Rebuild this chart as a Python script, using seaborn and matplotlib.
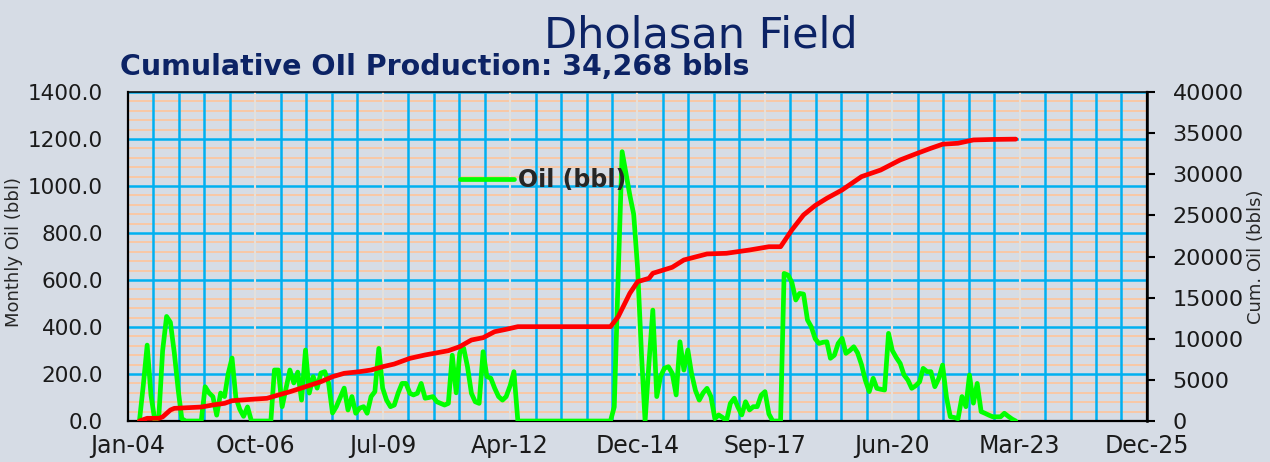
import matplotlib
matplotlib.use('Agg')
import matplotlib.pyplot as plt
import matplotlib.dates as mdates
from matplotlib.ticker import MultipleLocator, AutoMinorLocator, FormatStrFormatter, FixedLocator
import pandas as pd
import seaborn as sns

# monthly oil production (bbl), Apr-2004 .. Mar-2023
oil_start = '2004-04-01'
oil_monthly = [
    0, 150, 323, 110, 0, 20, 300, 445, 420,                     # 2004 (Apr-Dec)
    290, 130, 10, 0, 0, 0, 0, 0, 146, 120, 104, 25,             # 2005
    119, 104, 200, 268, 100, 50, 20, 60, 0, 0, 0, 0,            # 2006
    0, 0, 217, 217, 61, 140, 217, 162, 208, 89, 302, 119,       # 2007
    189, 140, 204, 210, 162, 34, 61, 100, 140, 47, 104, 33,     # 2008
    55, 61, 33, 104, 125, 309, 140, 89, 61, 68, 120, 160,       # 2009
    160, 118, 111, 118, 160, 97, 100, 104, 82, 75, 68, 75,      # 2010
    280, 120, 290, 310, 231, 118, 82, 75, 295, 189, 182, 140,   # 2011
    104, 89, 104, 150, 210, 0, 0, 0, 0, 0, 0, 0,                # 2012
    0, 0, 0, 0, 0, 0, 0, 0, 0, 0, 0, 0,                         # 2013
    0, 0, 0, 0, 0, 0, 60, 620, 1146, 1054, 960, 880,            # 2014
    650, 280, 0, 250, 472, 104, 190, 225, 231, 203, 111, 337,   # 2015
    217, 302, 203, 130, 89, 120, 139, 104, 10, 26, 15, 0,       # 2016
    75, 97, 60, 26, 82, 47, 61, 61, 110, 125, 30, 0,            # 2017
    0, 0, 628, 621, 590, 515, 543, 540, 430, 401, 350, 330,     # 2018
    335, 337, 267, 280, 330, 352, 288, 300, 316, 290, 240, 174, # 2019
    125, 182, 139, 135, 132, 373, 300, 270, 245, 196, 174, 139, # 2020
    150, 167, 224, 210, 210, 146, 180, 238, 100, 18, 15, 10,    # 2021
    104, 61, 196, 76, 160, 40, 33, 25, 18, 18, 18, 33,          # 2022
    20, 8, 0,                                                   # 2023 (Jan-Mar)
]

# cumulative oil (bbls)
cum_dates = ['2004-04', '2004-06', '2004-09', '2004-10', '2004-12', '2005-01',
             '2005-08', '2005-11', '2006-02', '2006-04', '2006-09', '2007-01',
             '2007-04', '2007-07', '2007-11', '2008-03', '2008-06', '2008-09',
             '2009-01', '2009-04', '2009-07', '2009-10', '2010-02', '2010-06',
             '2010-12', '2011-03', '2011-06', '2011-09', '2011-12', '2012-03',
             '2012-06', '2014-06', '2014-08', '2014-11', '2015-01', '2015-04',
             '2015-05', '2015-10', '2016-01', '2016-07', '2016-12', '2017-06',
             '2017-11', '2018-02', '2018-05', '2018-08', '2018-11', '2019-02',
             '2019-06', '2019-11', '2020-04', '2020-09', '2021-01', '2021-05',
             '2021-08', '2021-12', '2022-04', '2022-09', '2023-03']
cum_bbls = [0, 330, 330, 500, 1340, 1540,
            1700, 1950, 2150, 2470, 2640, 2760,
            3160, 3560, 4170, 4780, 5390, 5800,
            6000, 6200, 6600, 6930, 7620, 8030,
            8550, 9040, 9850, 10130, 10860, 11150,
            11470, 11470, 12680, 15530, 16940, 17350,
            17960, 18690, 19580, 20310, 20390, 20790,
            21190, 21190, 23230, 25050, 26200, 27080,
            28090, 29710, 30520, 31740, 32470, 33160,
            33650, 33770, 34170, 34230, 34268]

title = 'Dholasan Field'
subtitle = 'Cumulative OIl Production: 34,268 bbls'
x_start = '2004-01-02'   # axis start, Excel-style major unit of 1004 days

BG = '#d6dce5'
NAVY = '#0c2365'
INK = '#1a1a1a'

sns.set_style('white')
plt.rcParams['font.family'] = ['DejaVu Sans']

fig = plt.figure(figsize=(12.7, 4.62), dpi=100, facecolor=BG)
ax = fig.add_axes([0.1008, 0.0887, 0.8023, 0.7122])
ax.set_facecolor(BG)
ax2 = ax.twinx()

oil = pd.DataFrame({'date': pd.date_range(oil_start, periods=len(oil_monthly), freq='MS'),
                    'oil': oil_monthly})
cum = pd.DataFrame({'date': pd.to_datetime(cum_dates), 'cum': cum_bbls})

sns.lineplot(data=oil, x='date', y='oil', ax=ax, color='#00ff00', lw=3.4,
             label='Oil (bbl)', zorder=3)
sns.lineplot(data=cum, x='date', y='cum', ax=ax2, color='#ff0000', lw=3.4,
             legend=False)

# x axis: 8 major steps of 1004 days, 5 minor per step
xt = pd.date_range(x_start, periods=9, freq='1004D')
ax.set_xlim(xt[0], xt[-1])
ax.xaxis.set_major_locator(FixedLocator(mdates.date2num(xt)))
ax.xaxis.set_minor_locator(AutoMinorLocator(5))
ax.xaxis.set_major_formatter(mdates.DateFormatter('%b-%y'))

ax.set_ylim(0, 1400)
ax.yaxis.set_major_locator(MultipleLocator(200))
ax.yaxis.set_minor_locator(MultipleLocator(40))
ax.yaxis.set_major_formatter(FormatStrFormatter('%.1f'))

ax2.set_ylim(0, 40000)
ax2.yaxis.set_major_locator(MultipleLocator(5000))
ax2.yaxis.set_major_formatter(FormatStrFormatter('%d'))

# gridlines
ax.grid(which='minor', axis='y', color='#f8c8a6', lw=1.4)
ax.grid(which='major', axis='y', color='#00b0f0', lw=1.8)
ax.grid(which='minor', axis='x', color='#00b0f0', lw=1.8)
ax.grid(which='major', axis='x', color='#e4e0dc', lw=1.5)
ax.yaxis.set_zorder(0.6)
ax.xaxis.set_zorder(0.7)

ax.tick_params(axis='both', which='both', length=0)
ax.tick_params(axis='y', pad=18, labelsize=15.5, labelcolor=INK)
ax.tick_params(axis='x', pad=9, labelsize=17, labelcolor=INK)
ax2.tick_params(axis='y', which='major', length=6, width=1.5, direction='out',
                pad=12.5, labelsize=16, labelcolor=INK, color='black')
ax2.tick_params(axis='y', which='minor', length=0)

for s in ax.spines.values():
    s.set_color('black')
    s.set_linewidth(1.6)
ax.spines['top'].set_linewidth(1.1)
for k, s in ax2.spines.items():
    s.set_visible(k == 'right')
ax2.spines['right'].set_color('black')
ax2.spines['right'].set_linewidth(1.8)

ax.set_xlabel('')
ax.set_ylabel('Monthly Oil (bbl)', fontsize=13, color='#262626')
ax.yaxis.set_label_coords(-0.103, 0.514)
ax2.set_ylabel('Cum. Oil (bbls)', fontsize=13, color='#262626')
ax2.yaxis.set_label_coords(1.098, 0.498)

ax.legend(loc='center left', bbox_to_anchor=(0.326, 0.732), frameon=False,
          prop={'weight': 'bold', 'size': 17}, handlelength=2.3,
          handletextpad=0.15, borderpad=0, borderaxespad=0)

fig.text(0.552, 0.924, title, ha='center', va='center', fontsize=31, color=NAVY)
fig.text(0.0945, 0.855, subtitle, ha='left', va='center', fontsize=20.5,
         fontweight='bold', color=NAVY)

fig.savefig('out.png', dpi=100, facecolor=BG)
